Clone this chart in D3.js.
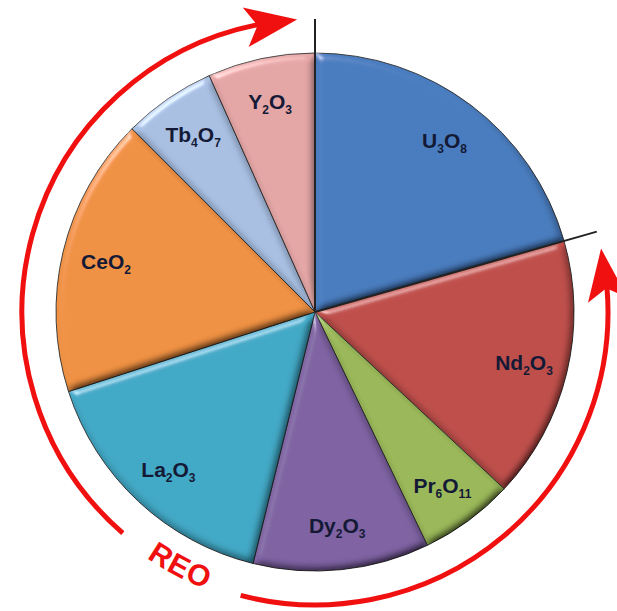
<!DOCTYPE html>
<html>
<head>
<meta charset="utf-8">
<script src="https://cdn.jsdelivr.net/npm/d3@7"></script>
<style>
  body { margin: 0; background: #fff; }
  svg { display: block; }
</style>
</head>
<body>
<div id="chart"></div>
<script>
// oxide shares, clockwise from 12 o'clock
const oxides = ["U3O8", "Nd2O3", "Pr6O11", "Dy2O3", "La2O3", "CeO2", "Tb4O7", "Y2O3"];
const shares = [20.6, 16.4, 5.9, 11.0, 16.2, 17.5, 5.8, 6.7];
const sliceColors = ["#4a7dbf", "#bf504c", "#9bb95a", "#7f63a3", "#43a9c6", "#f09244", "#a9c0e3", "#e5a6a6"];
const arrowLabel = "REO";

const width = 617, height = 611;
const cx = 315, cy = 312;
const radius = 259;
const ringRadius = 293;

const svg = d3.select("#chart").append("svg")
    .attr("width", width)
    .attr("height", height);

const defs = svg.append("defs");

// bevel look for the slices: flat middle keeps its colour, edges get light/shade
const elev = 50;
const bevel = defs.append("filter")
    .attr("id", "bevel")
    .attr("x", "-5%").attr("y", "-5%")
    .attr("width", "110%").attr("height", "110%");
bevel.append("feGaussianBlur")
    .attr("in", "SourceAlpha")
    .attr("stdDeviation", 4)
    .attr("result", "blur");
const spec = bevel.append("feSpecularLighting")
    .attr("in", "blur")
    .attr("surfaceScale", 5)
    .attr("specularConstant", 0.9)
    .attr("specularExponent", 40)
    .attr("lighting-color", "#ffffff")
    .attr("result", "spec");
spec.append("feDistantLight").attr("azimuth", 235).attr("elevation", 30);
bevel.append("feComposite")
    .attr("in", "spec").attr("in2", "SourceAlpha")
    .attr("operator", "in").attr("result", "specIn");
const diff = bevel.append("feDiffuseLighting")
    .attr("in", "blur")
    .attr("surfaceScale", 5)
    .attr("diffuseConstant", 1 / Math.sin(elev * Math.PI / 180))
    .attr("lighting-color", "#ffffff")
    .attr("result", "diff");
diff.append("feDistantLight").attr("azimuth", 235).attr("elevation", elev);
bevel.append("feComposite")
    .attr("in", "SourceGraphic").attr("in2", "diff")
    .attr("operator", "arithmetic")
    .attr("k1", 1).attr("k2", 0).attr("k3", 0).attr("k4", 0)
    .attr("result", "shaded");
bevel.append("feComposite")
    .attr("in", "shaded").attr("in2", "specIn")
    .attr("operator", "arithmetic")
    .attr("k1", 0).attr("k2", 1).attr("k3", 0.45).attr("k4", 0);

const g = svg.append("g").attr("transform", `translate(${cx},${cy})`);

const pie = d3.pie().sort(null).value(d => d);
const arcs = pie(shares);

const arc = d3.arc().innerRadius(0).outerRadius(radius);
const labelArc = d3.arc().innerRadius(215).outerRadius(215);

g.selectAll(".slice")
    .data(arcs)
    .enter().append("path")
    .attr("class", "slice")
    .attr("d", arc)
    .attr("fill", (d, i) => sliceColors[i])
    .attr("stroke", "#2e2e2e")
    .attr("stroke-width", 0.9)
    .attr("filter", "url(#bevel)");

// split formula into plain and subscript parts
function parts(name) {
    return name.match(/[A-Za-z]+|\d+/g).map(s => ({ text: s, sub: /^\d/.test(s) }));
}

const labels = g.selectAll(".label")
    .data(arcs)
    .enter().append("text")
    .attr("class", "label")
    .attr("transform", d => `translate(${labelArc.centroid(d)})`)
    .attr("text-anchor", "middle")
    .attr("dy", "0.35em")
    .attr("font-family", "'Liberation Sans', Arial, sans-serif")
    .attr("font-weight", "bold")
    .attr("font-size", 21)
    .attr("fill", "#141a36");

labels.each(function (d, i) {
    const t = d3.select(this);
    let shifted = false;
    parts(oxides[i]).forEach(p => {
        const span = t.append("tspan").text(p.text);
        if (p.sub) {
            span.attr("font-size", 12).attr("dy", 5);
            shifted = true;
        } else if (shifted) {
            span.attr("dy", -5);
            shifted = false;
        }
    });
});

// the two black boundary lines of the U3O8 slice
[arcs[0].startAngle, arcs[0].endAngle].forEach(a => {
    g.append("line")
        .attr("x1", 0).attr("y1", 0)
        .attr("x2", ringRadius * Math.sin(a))
        .attr("y2", -ringRadius * Math.cos(a))
        .attr("stroke", "#222")
        .attr("stroke-width", 2);
});

// red arrows around the pie
const red = "#f01010";
const rad = deg => deg * Math.PI / 180;
const ring = d3.arc().innerRadius(ringRadius).outerRadius(ringRadius);

function arrow(fromDeg, toDeg, tipDeg, clockwise) {
    const s = Math.min(fromDeg, toDeg), e = Math.max(fromDeg, toDeg);
    g.append("path")
        .attr("d", ring({ startAngle: rad(s), endAngle: rad(e) }))
        .attr("fill", "none")
        .attr("stroke", red)
        .attr("stroke-width", 5);
    const tx = ringRadius * Math.sin(rad(tipDeg));
    const ty = -ringRadius * Math.cos(rad(tipDeg));
    const mid = clockwise ? tipDeg - 5 : tipDeg + 5;
    const rot = clockwise ? mid : mid + 180;
    g.append("path")
        .attr("d", "M0,0 L-52,-20 L-40,0 L-52,20 Z")
        .attr("transform", `translate(${tx},${ty}) rotate(${rot})`)
        .attr("fill", red);
}

arrow(221, 350, 356.5, true);
arrow(194.7, 85, 77.5, false);

// REO along the bottom-left gap
const textR = 287;
const a0 = rad(228), a1 = rad(188);
defs.append("path")
    .attr("id", "reoPath")
    .attr("d", `M${cx + textR * Math.sin(a0)},${cy - textR * Math.cos(a0)} A${textR},${textR} 0 0 0 ${cx + textR * Math.sin(a1)},${cy - textR * Math.cos(a1)}`);

svg.append("text")
    .attr("font-family", "'Liberation Sans', Arial, sans-serif")
    .attr("font-weight", "bold")
    .attr("font-size", 30)
    .attr("fill", red)
    .attr("dominant-baseline", "central")
    .append("textPath")
    .attr("href", "#reoPath")
    .attr("startOffset", "50%")
    .attr("text-anchor", "middle")
    .text(arrowLabel);
</script>
</body>
</html>
